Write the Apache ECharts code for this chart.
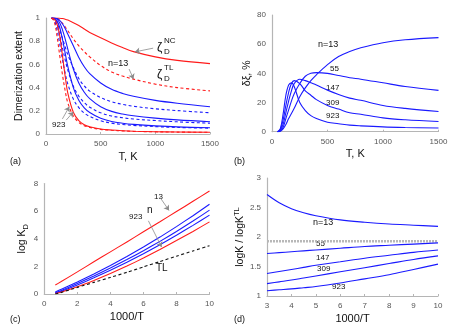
<!DOCTYPE html>
<html><head><meta charset="utf-8">
<script src="https://cdn.jsdelivr.net/npm/echarts@6/dist/echarts.min.js"></script>
<style>html,body{margin:0;padding:0;background:#fff}#c{width:453px;height:327px}</style>
</head><body><div id="c"></div>
<script>
// ---------- Panel (a): dimerization extent vs T ----------
var Ta = [50, 75, 100, 125, 150, 175, 200, 250, 300, 350, 400, 500, 600, 700, 800, 1000, 1200, 1500];
var a_NC13  = [1, 1, 1, 0.998, 0.995, 0.99, 0.982, 0.96, 0.935, 0.905, 0.875, 0.83, 0.785, 0.745, 0.71, 0.665, 0.635, 0.607];
var a_TL13  = [1, 1, 0.995, 0.98, 0.955, 0.925, 0.89, 0.82, 0.76, 0.71, 0.665, 0.59, 0.535, 0.5, 0.473, 0.43, 0.4, 0.372];
var a_NC55  = [1, 1, 0.995, 0.98, 0.95, 0.91, 0.86, 0.76, 0.66, 0.58, 0.52, 0.44, 0.385, 0.35, 0.325, 0.29, 0.265, 0.235];
var a_TL55  = [1, 0.995, 0.966, 0.899, 0.826, 0.752, 0.683, 0.571, 0.478, 0.414, 0.37, 0.314, 0.278, 0.255, 0.239, 0.217, 0.202, 0.183];
var a_NC147 = [1, 1, 0.99, 0.96, 0.9, 0.82, 0.73, 0.56, 0.44, 0.36, 0.305, 0.235, 0.195, 0.172, 0.157, 0.137, 0.122, 0.106];
var a_TL147 = [1, 0.99, 0.943, 0.85, 0.744, 0.641, 0.549, 0.412, 0.326, 0.27, 0.231, 0.183, 0.155, 0.14, 0.129, 0.116, 0.105, 0.093];
var a_NC309 = [1, 0.995, 0.975, 0.92, 0.82, 0.7, 0.58, 0.4, 0.29, 0.225, 0.185, 0.135, 0.108, 0.093, 0.083, 0.07, 0.061, 0.054];
var a_TL309 = [1, 0.98, 0.903, 0.78, 0.646, 0.526, 0.43, 0.301, 0.227, 0.18, 0.152, 0.114, 0.0935, 0.0823, 0.0741, 0.0639, 0.0564, 0.0505];
var a_NC923 = [1, 0.99, 0.95, 0.85, 0.68, 0.5, 0.35, 0.187, 0.115, 0.08, 0.062, 0.043, 0.034, 0.028, 0.024, 0.02, 0.017, 0.015];
var a_TL923 = [1, 0.971, 0.848, 0.68, 0.515, 0.375, 0.267, 0.156, 0.1, 0.072, 0.057, 0.04, 0.032, 0.027, 0.023, 0.019, 0.0165, 0.0146];

// ---------- Panel (b): relative difference, % ----------
var b_13  = [0, 0.3, 2, 5, 9, 12.5, 16, 24, 30, 35, 39, 46, 51.5, 55, 57.5, 61, 63, 64.5];
var b_55  = [0, 0.5, 3, 9, 15, 21, 26, 33, 38, 40, 40.5, 40, 38.5, 37, 36, 33.5, 31, 28.3];
var b_147 = [0, 1, 5, 13, 21, 28, 33, 36, 35, 33.5, 32, 28.5, 25.5, 23, 21.5, 18, 16, 13.8];
var b_309 = [0, 1.5, 8, 18, 27, 33, 35, 33, 28, 25, 22, 18, 15.5, 13, 12, 9.5, 8.2, 7];
var b_923 = [0, 2, 12, 25, 32, 33.5, 31, 20, 14.5, 11, 9, 6.5, 5.5, 4.5, 4, 3.3, 2.9, 2.5];

// ---------- Panel (c): log K_D vs 1000/T ----------
var Xc = [0.667, 1, 2, 3, 4, 5, 6, 7, 8, 9, 10];
var c_13  = [0.65, 0.88, 1.6, 2.33, 3.05, 3.77, 4.5, 5.23, 5.97, 6.71, 7.46];
var c_55  = [0.15, 0.32, 0.87, 1.45, 2.06, 2.71, 3.4, 4.12, 4.88, 5.67, 6.5];
var c_147 = [0.1, 0.24, 0.76, 1.3, 1.88, 2.49, 3.13, 3.81, 4.53, 5.28, 6.07];
var c_309 = [0.07, 0.18, 0.66, 1.17, 1.72, 2.3, 2.92, 3.57, 4.26, 4.97, 5.71];
var c_923 = [0.03, 0.12, 0.52, 0.98, 1.48, 2.02, 2.6, 3.22, 3.87, 4.53, 5.22];
var c_TL  = [0, 0.1, 0.48, 0.84, 1.2, 1.57, 1.96, 2.35, 2.74, 3.12, 3.5];

// ---------- Panel (d): logK / logK^TL vs 1000/T ----------
var Xd = [3, 3.5, 4, 4.5, 5, 6, 7, 8, 9, 10];
var d_13  = [2.72, 2.58, 2.48, 2.41, 2.36, 2.29, 2.25, 2.22, 2.2, 2.18];
var d_55  = [1.72, 1.735, 1.75, 1.765, 1.78, 1.81, 1.84, 1.86, 1.88, 1.9];
var d_147 = [1.38, 1.415, 1.45, 1.485, 1.52, 1.58, 1.64, 1.69, 1.74, 1.78];
var d_309 = [1.21, 1.24, 1.27, 1.305, 1.34, 1.41, 1.48, 1.55, 1.62, 1.68];
var d_923 = [1.09, 1.105, 1.12, 1.14, 1.16, 1.22, 1.29, 1.36, 1.45, 1.54];
var d_ref = [1.93, 1.93, 1.93, 1.93, 1.93, 1.93, 1.93, 1.93, 1.93, 1.93];

var RED = '#ff1a1a', BLUE = '#1a1aff';
var FONT = 'Liberation Sans';

function pairs(xs, ys) { return xs.map(function (x, i) { return [x, ys[i]]; }); }
function line(idx, xs, ys, color, dashed, extra) {
  var s = {
    type: 'line', xAxisIndex: idx, yAxisIndex: idx, data: pairs(xs, ys),
    smooth: 0.35, symbol: 'none', silent: true, animation: false,
    lineStyle: { color: color, width: 1.1, type: dashed ? [3, 2.5] : 'solid' }
  };
  if (extra) for (var k in extra) s[k] = extra[k];
  return s;
}
function arrows(list) {
  return {
    silent: true, symbol: ['none', 'arrow'], symbolSize: 5, animation: false,
    label: { show: false },
    lineStyle: { color: '#8a8a8a', width: 0.8, type: 'solid' },
    itemStyle: { color: '#222' },
    data: list.map(function (p) { return [{ coord: p[0] }, { coord: p[1] }]; })
  };
}
var RICH = {
  a: { fontFamily: FONT, fontSize: 10.5, color: '#111', lineHeight: 16, verticalAlign: 'middle' },
  sub: { fontFamily: FONT, fontSize: 7.5, color: '#111', lineHeight: 16, verticalAlign: 'bottom' },
  sup: { fontFamily: FONT, fontSize: 7.5, color: '#111', lineHeight: 16, verticalAlign: 'top' }
};
function xAx(idx, min, max, interval, name, gap) {
  return {
    gridIndex: idx, type: 'value', min: min, max: max, interval: interval,
    name: name, nameLocation: 'middle', nameGap: gap,
    nameTextStyle: { fontFamily: FONT, fontSize: 11, color: '#111' },
    axisLine: { lineStyle: { color: '#b5b5b5', width: 1.2 } },
    axisTick: { inside: true, length: 2, lineStyle: { color: '#b5b5b5' } },
    axisLabel: { fontFamily: FONT, fontSize: 8, color: '#555', margin: 6,
      formatter: function (v) { return String(v); } },
    splitLine: { show: false }
  };
}
function yAx(idx, min, max, interval, name, gap) {
  return {
    gridIndex: idx, type: 'value', min: min, max: max, interval: interval,
    name: name, nameLocation: 'middle', nameGap: gap, nameRotate: 90,
    nameTextStyle: { fontFamily: FONT, fontSize: 10.5, color: '#111', rich: RICH },
    axisLine: { show: true, lineStyle: { color: '#b5b5b5', width: 1.2 } },
    axisTick: { show: false },
    axisLabel: { fontFamily: FONT, fontSize: 8, color: '#555', margin: 6,
      formatter: function (v) { return String(v); } },
    splitLine: { show: false }
  };
}

var chart = echarts.init(document.getElementById('c'), null, { renderer: 'canvas' });

var series = [
  line(0, Ta, a_NC13, RED, false, { markLine: arrows([[[980, 0.74], [814, 0.708]], [[760, 0.56], [800, 0.475]]]) }),
  line(0, Ta, a_TL13, RED, true),
  line(0, Ta, a_NC55, BLUE, false),
  line(0, Ta, a_TL55, BLUE, true),
  line(0, Ta, a_NC147, BLUE, false),
  line(0, Ta, a_TL147, BLUE, true),
  line(0, Ta, a_NC309, BLUE, false),
  line(0, Ta, a_TL309, BLUE, true),
  line(0, Ta, a_NC923, RED, false, { markLine: arrows([[[150, 0.13], [213, 0.235]], [[185, 0.12], [250, 0.19]]]) }),
  line(0, Ta, a_TL923, RED, true),

  line(1, Ta, b_13, BLUE, false),
  line(1, Ta, b_55, BLUE, false),
  line(1, Ta, b_147, BLUE, false),
  line(1, Ta, b_309, BLUE, false),
  line(1, Ta, b_923, BLUE, false),

  line(2, Xc, c_13, RED, false, { smooth: 0.2, markLine: arrows([[[7.0, 7.0], [7.55, 6.05]]]) }),
  line(2, Xc, c_55, BLUE, false, { smooth: 0.2 }),
  line(2, Xc, c_147, BLUE, false, { smooth: 0.2 }),
  line(2, Xc, c_309, BLUE, false, { smooth: 0.2 }),
  line(2, Xc, c_923, RED, false, { smooth: 0.2, markLine: arrows([[[6.3, 5.3], [7.1, 3.4]]]) }),
  line(2, Xc, c_TL, '#111', true, { smooth: 0.2 }),

  line(3, Xd, d_ref, '#b0b0b0', false, { smooth: false, lineStyle: { color: '#b8b8b8', width: 2.5, type: [2, 1] } }),
  line(3, Xd, d_13, BLUE, false),
  line(3, Xd, d_55, BLUE, false),
  line(3, Xd, d_147, BLUE, false),
  line(3, Xd, d_309, BLUE, false),
  line(3, Xd, d_923, BLUE, false)
];

function txt(x, y, s, size, extra) {
  var o = { type: 'text', left: x, top: y, silent: true,
    style: { text: s, fontFamily: FONT, fontSize: size || 9, fill: '#111' } };
  if (extra) for (var k in extra) o.style[k] = extra[k];
  return o;
}

chart.setOption({
  animation: false,
  backgroundColor: '#fff',
  grid: [
    { left: 46, top: 18, width: 164, height: 116 },
    { left: 272, top: 15, width: 166.5, height: 116.7 },
    { left: 44.3, top: 183.5, width: 165.2, height: 110.5 },
    { left: 267, top: 178, width: 171, height: 118 }
  ],
  xAxis: [
    xAx(0, 0, 1500, 500, 'T, K', 17),
    xAx(1, 0, 1500, 500, 'T, K', 17),
    xAx(2, 0, 10, 2, '1000/T', 17),
    xAx(3, 3, 10, 1, '1000/T', 17)
  ],
  yAxis: [
    yAx(0, 0, 1, 0.2, '{a|Dimerization extent}', 17),
    yAx(1, 0, 80, 20, '{a|δξ, %}', 17),
    yAx(2, 0, 8, 2, '{a|log K}{sub|D}', 13),
    yAx(3, 1, 3, 0.5, '{a|logK / logK}{sup|TL}', 16)
  ],
  series: series,
  graphic: [
    txt(10, 157, '(a)', 9), txt(234, 157, '(b)', 9), txt(10, 315, '(c)', 9), txt(234, 315, '(d)', 9),
    // panel a labels
    txt(157, 42, 'ζ', 12), txt(164, 37, 'NC', 8), txt(164, 48, 'D', 8),
    txt(157, 69, 'ζ', 12), txt(164, 64, 'TL', 8), txt(164, 75, 'D', 8),
    txt(108, 59, 'n=13', 9), txt(52, 121, '923', 8),
    // panel b labels
    txt(318, 40, 'n=13', 9), txt(330, 65, '55', 8), txt(326, 84, '147', 8), txt(326, 99, '309', 8), txt(326, 112, '923', 8),
    // panel c labels
    txt(154, 193, '13', 8), txt(147, 205, 'n', 10), txt(129, 213, '923', 8), txt(156, 263, 'TL', 10),
    // panel d labels
    txt(313, 218, 'n=13', 9), txt(316, 240, '55', 8), txt(316, 254, '147', 8), txt(317, 265, '309', 8), txt(332, 283, '923', 8)
  ]
});
</script></body></html>
